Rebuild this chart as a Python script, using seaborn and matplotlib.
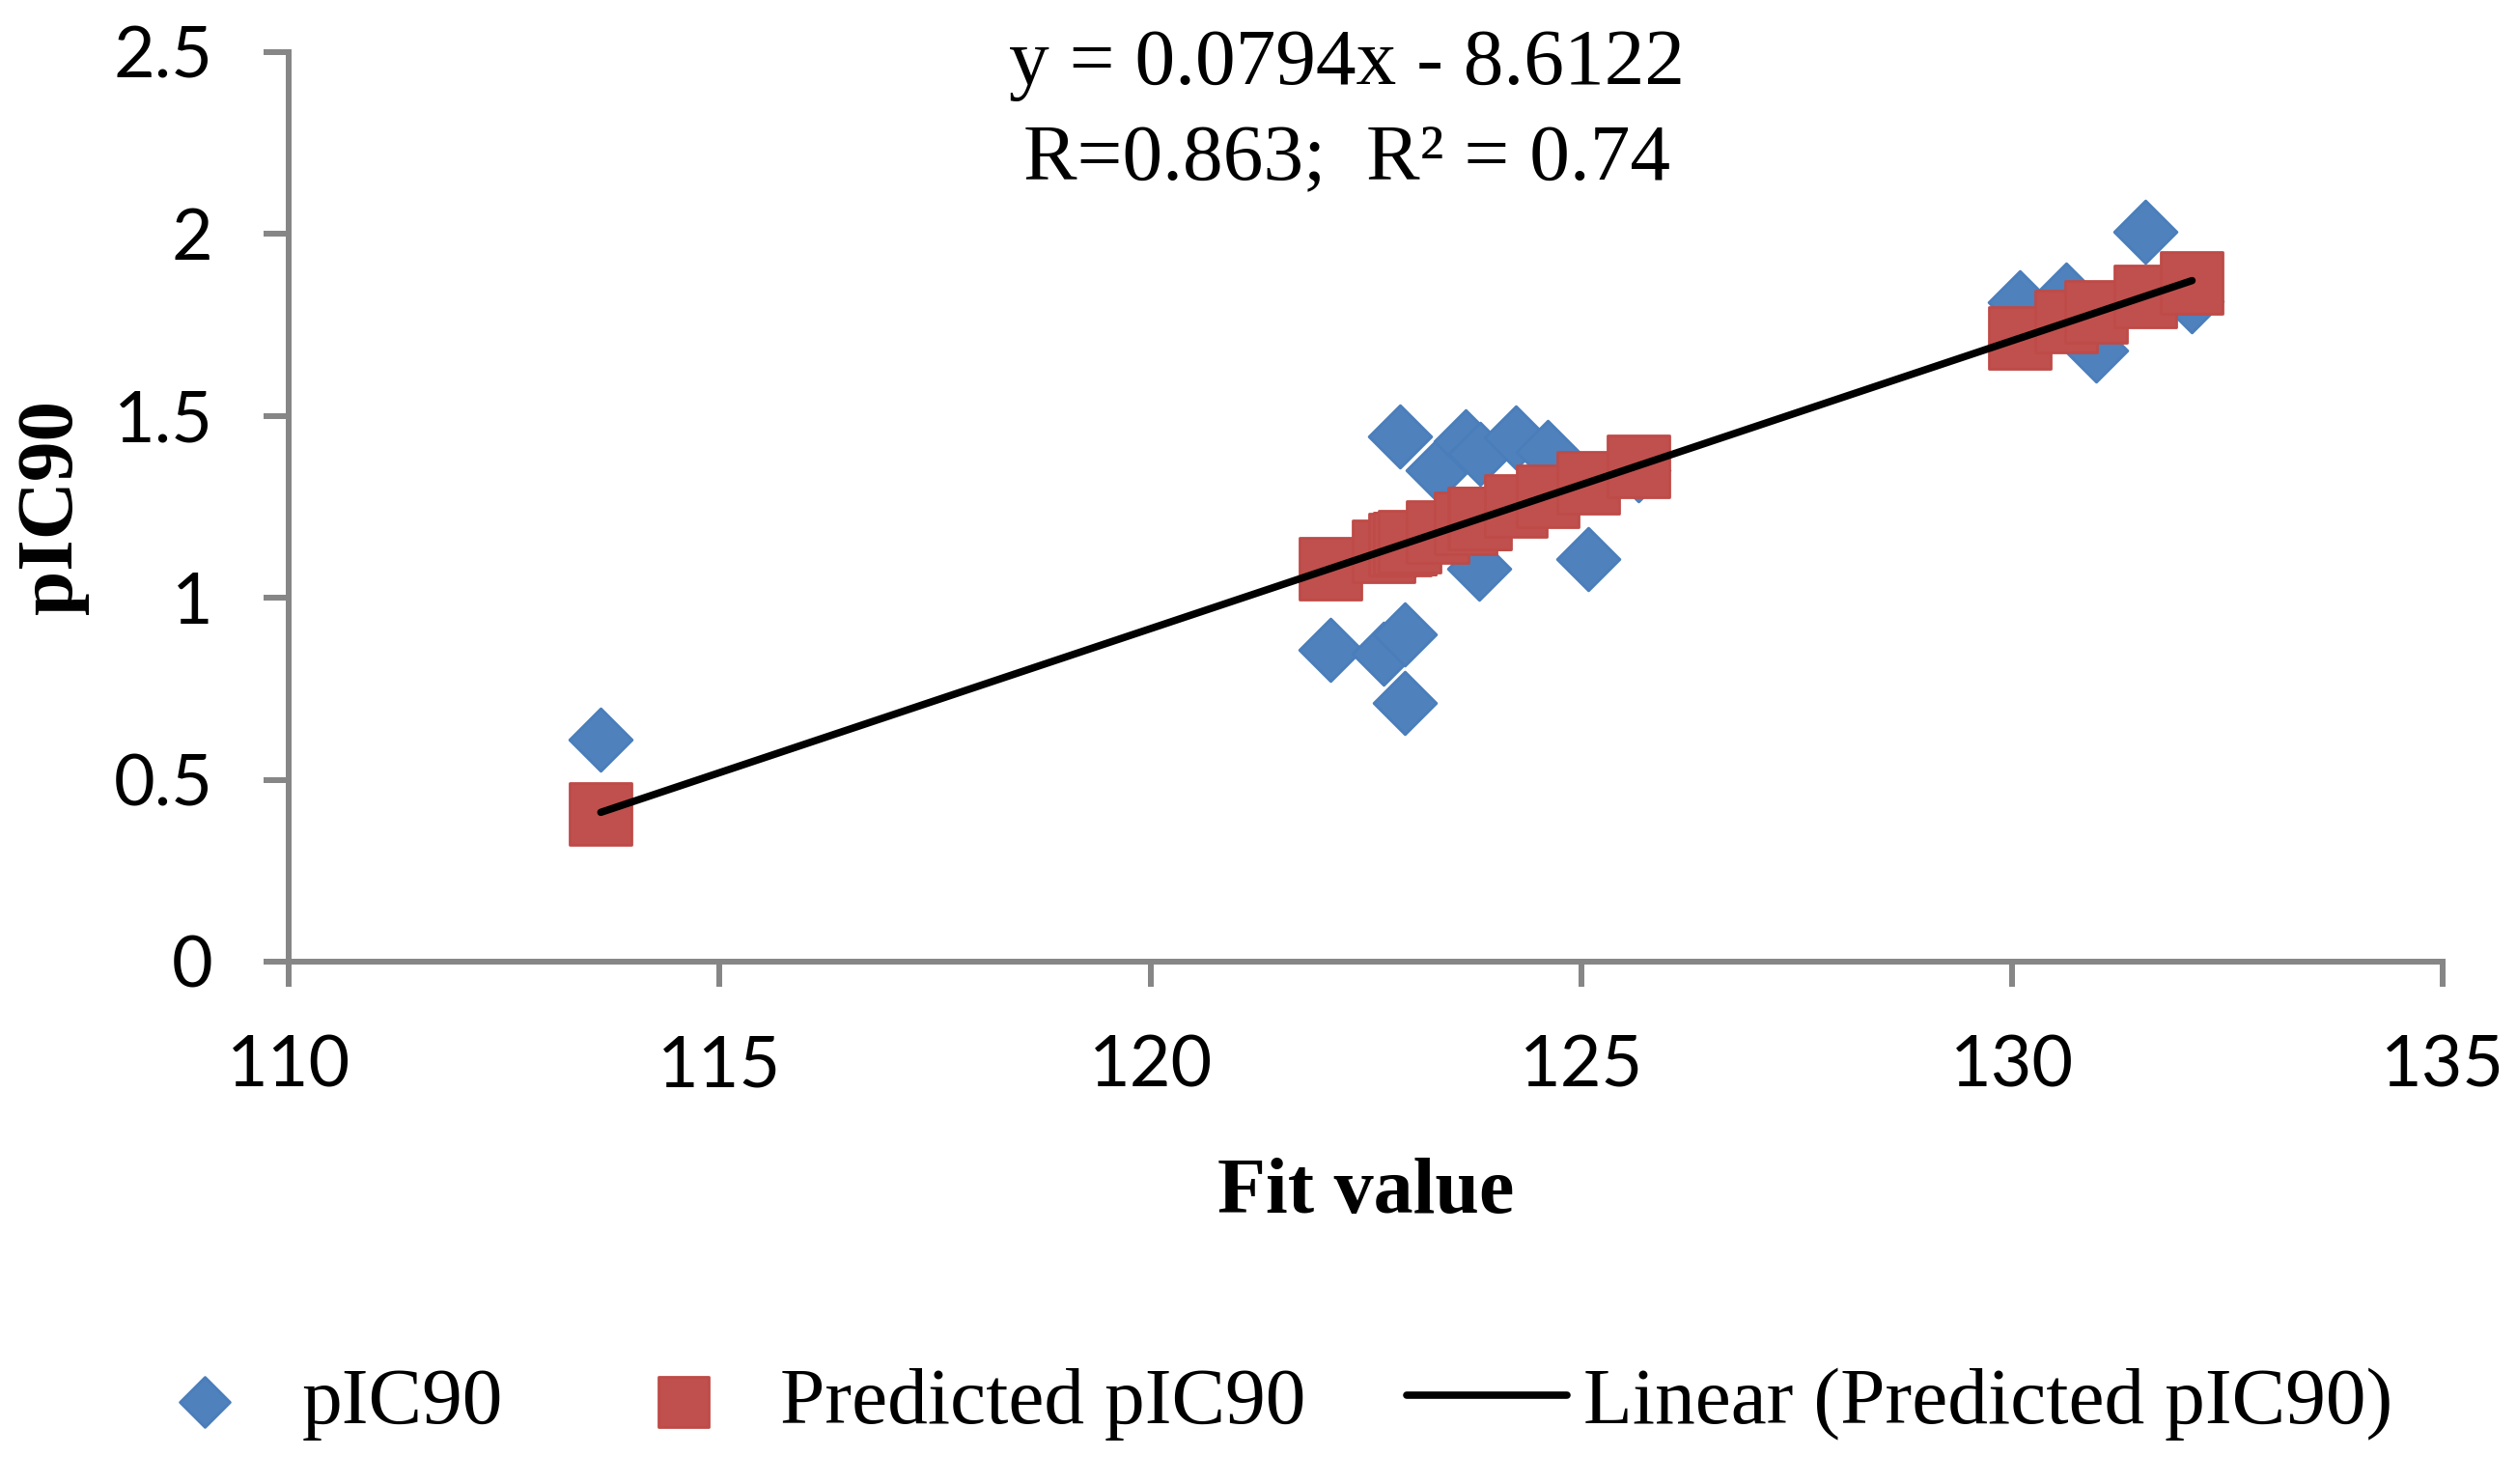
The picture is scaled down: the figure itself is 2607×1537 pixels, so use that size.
import numpy as np
import pandas as pd
import matplotlib
matplotlib.use("Agg")
import matplotlib.pyplot as plt
import seaborn as sns

'''DATA'''
fit_value = [113.62, 122.09, 122.71, 122.90, 122.95, 122.95, 123.01, 123.33, 123.66,
             123.81, 123.83, 124.24, 124.61, 125.08, 125.66,
             130.09, 130.63, 130.98, 131.55, 132.09]
pic90 = [0.610, 0.856, 0.847, 1.443, 0.900, 0.710, 1.131, 1.351, 1.431,
         1.081, 1.396, 1.440, 1.400, 1.106, 1.350,
         1.811, 1.833, 1.679, 2.006, 1.816]
predicted_pic90 = [0.407, 1.080, 1.128, 1.145, 1.150, 1.150, 1.155, 1.180, 1.205,
                   1.217, 1.219, 1.252, 1.280, 1.316, 1.362,
                   1.714, 1.758, 1.785, 1.829, 1.865]

x_ticks = [110, 115, 120, 125, 130, 135]
y_ticks = [0, 0.5, 1, 1.5, 2, 2.5]
y_tick_labels = ["0", "0.5", "1", "1.5", "2", "2.5"]

equation_text = "y = 0.0794x - 8.6122"
r_text = "R=0.863;  R\u00b2 = 0.74"

df = pd.DataFrame({"Fit value": fit_value,
                   "pIC90": pic90,
                   "Predicted pIC90": predicted_pic90})

'''STYLE'''
sns.set_style("white")
plt.rcParams["font.family"] = ["Liberation Serif", "DejaVu Sans"]
plt.rcParams["text.color"] = "black"
plt.rcParams["axes.labelcolor"] = "black"
plt.rcParams["xtick.labelcolor"] = "black"
plt.rcParams["ytick.labelcolor"] = "black"

BLUE, BLUE_EDGE = "#4F81BD", "#4A7EBB"
RED, RED_EDGE = "#C0504D", "#BE4B48"
GREY = "#868686"

fig = plt.figure(figsize=(26.07, 15.37), dpi=100)
ax = fig.add_axes([0.1148, 0.352, 0.8557, 0.613])

'''PLOT'''
sns.scatterplot(data=df, x="Fit value", y="pIC90", marker="D", s=1090,
                color=BLUE, edgecolor=BLUE_EDGE, linewidth=2,
                label="pIC90", ax=ax, zorder=3)
sns.scatterplot(data=df, x="Fit value", y="Predicted pIC90", marker="s", s=2190,
                color=RED, edgecolor=RED_EDGE, linewidth=2,
                label="Predicted pIC90", ax=ax, zorder=4)
sns.regplot(data=df, x="Fit value", y="Predicted pIC90", scatter=False, ci=None,
            color="black", label="Linear (Predicted pIC90)",
            line_kws={"linewidth": 5.5, "zorder": 5, "solid_capstyle": "round"}, ax=ax)

ax.set_xlim(110, 135)
ax.set_ylim(0, 2.5)
ax.set_xticks(x_ticks)
ax.set_xticklabels([str(t) for t in x_ticks])
ax.set_yticks(y_ticks)
ax.set_yticklabels(y_tick_labels)

for side in ["top", "right"]:
    ax.spines[side].set_visible(False)
for side in ["left", "bottom"]:
    ax.spines[side].set_color(GREY)
    ax.spines[side].set_linewidth(4.3)

ax.tick_params(axis="both", which="major", direction="out", length=18.7, width=4.3,
               color=GREY, labelcolor="black", labelsize=53, left=True, bottom=True)
ax.tick_params(axis="x", pad=36)
ax.tick_params(axis="y", pad=38)
for lab in ax.get_xticklabels() + ax.get_yticklabels():
    lab.set_fontfamily(["Lato", "DejaVu Sans"])

ax.set_xlabel("Fit value", fontsize=59, fontweight="bold", color="black")
ax.xaxis.set_label_coords(0.5, -0.215)
ax.set_ylabel("pIC90", fontsize=60, fontweight="bold", color="black")
ax.yaxis.set_label_coords(-0.093, 0.5)

ax.text(0.491, 0.986, equation_text, transform=ax.transAxes, ha="center", va="center",
        fontsize=60, color="black")
ax.text(0.491, 0.880, r_text, transform=ax.transAxes, ha="center", va="center",
        fontsize=60, color="black")

'''LEGEND'''
handles, labels = ax.get_legend_handles_labels()
ax.legend_.remove()
leg = fig.legend(handles, labels, loc="center", bbox_to_anchor=(0.500, 0.054), ncol=3,
                 frameon=False, fontsize=60, handlelength=2.0, handletextpad=0.2,
                 columnspacing=1.25, markerscale=0.8)
for t in leg.get_texts():
    t.set_color("black")

fig.savefig("out.png", dpi=100)
